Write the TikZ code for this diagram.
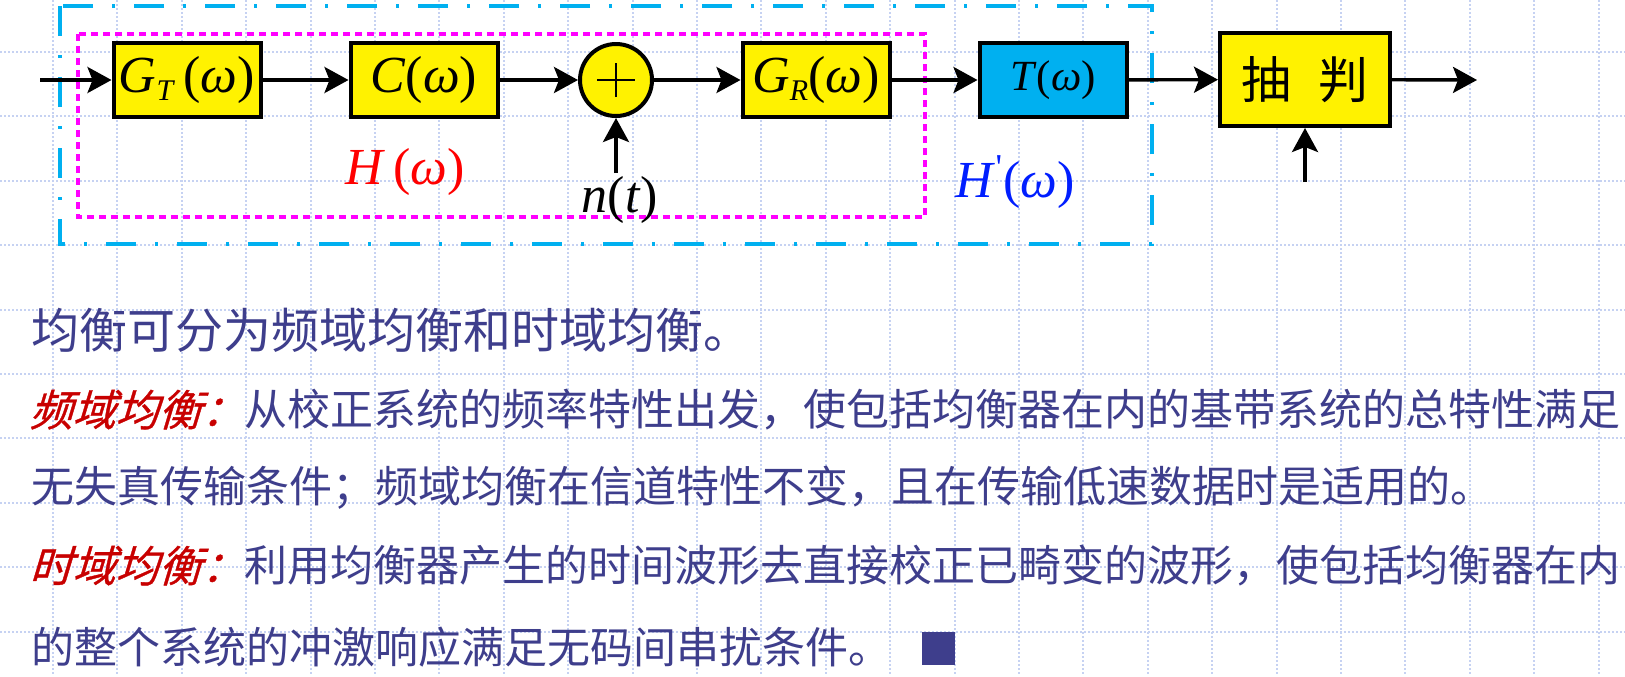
\documentclass[tikz,border=0pt]{standalone}
\usepackage{fontspec}
\setmainfont{Noto Sans CJK SC}
\newfontfamily\tnr{Liberation Serif}
\newfontfamily\slnt[FakeSlant=0.3,FakeBold=0.8]{Noto Sans CJK SC}
\usetikzlibrary{arrows.meta}
\definecolor{grd}{RGB}{198,210,242}
\definecolor{txt}{RGB}{62,62,140}
\definecolor{skyb}{RGB}{0,176,240}
\definecolor{dred}{RGB}{200,0,0}
\definecolor{hblue}{RGB}{0,30,255}
\definecolor{pink}{RGB}{255,0,255}
\tikzset{blk/.style={draw,line width=2pt,fill=yellow,minimum width=73.5pt,minimum height=37pt,inner sep=0pt}}
\tikzset{sig/.style={-{Stealth[length=12pt,width=13pt,inset=2.5pt]},line width=1.7pt}}
\tikzset{t/.style={inner sep=0pt,anchor=west,text=txt,font=\fontsize{21.5}{24}\selectfont}}
\tikzset{lbl/.style={inner sep=0pt,font=\tnr\fontsize{26}{28}\selectfont}}
\tikzset{gridline/.style={grd,line width=1pt,densely dotted}}
\newcommand{\omg}{\textit{ω}}

\begin{document}
\begin{tikzpicture}[x=0.5pt,y=-0.5pt]
\useasboundingbox (0,0) rectangle (1625,676);
\fill[white] (0,0) rectangle (1625,676);
% grid
\foreach \i in {0,...,24} \draw[gridline] (53+64.4*\i,0) -- (53+64.4*\i,676);
\foreach \j in {0,...,9} \draw[gridline] (0,52+64.4*\j) -- (1625,52+64.4*\j);
% frames
\draw[skyb,line width=2pt,dash pattern=on 15pt off 9.5pt on 1.5pt off 9.5pt] (60,6) rectangle (1152,244);
\draw[pink,line width=2pt,dash pattern=on 3.5pt off 2.5pt] (78,34) rectangle (925,217);
% blocks
\node[blk] (GT) at (187,80) {\tnr\fontsize{26}{28}\selectfont\textit{G}\raisebox{-0.35ex}{\fontsize{15}{18}\selectfont\textit{T}}\,(\omg)};
\node[blk] (C) at (424,80) {\tnr\fontsize{26}{28}\selectfont\textit{C}(\omg)};
\node[draw,circle,fill=yellow,line width=2pt,minimum size=36pt,inner sep=0pt] (sum) at (616,80) {};
\draw[line width=1.3pt] ([xshift=-9.5pt]sum.center) -- ([xshift=9.5pt]sum.center);
\draw[line width=1.3pt] ([yshift=-8.5pt]sum.center) -- ([yshift=8.5pt]sum.center);
\node[blk] (GR) at (816,80) {\tnr\fontsize{26}{28}\selectfont\textit{G}\raisebox{-0.35ex}{\fontsize{15}{18}\selectfont\textit{R}}(\omg)};
\node[blk,fill=skyb] (T) at (1053,80) {\tnr\fontsize{21.5}{24}\selectfont\textit{T}(\omg)};
\node[blk,minimum width=85pt,minimum height=46.5pt] (judge) at (1305,79.5) {\fontsize{25}{28}\selectfont 抽\hspace{0.55em}判};
\coordinate (in) at (40,80);
\coordinate (out) at (1477,80);
\coordinate (noise) at (616,173);
\coordinate (clk) at (1305,182);
% connectors
\draw[sig] (in) -- (GT);
\draw[sig] (GT) -- (C);
\draw[sig] (C) -- (sum);
\draw[sig] (sum) -- (GR);
\draw[sig] (GR) -- (T);
\draw[sig] (T) -- (judge);
\draw[sig] (judge) -- (out);
\draw[sig] (noise) -- (sum);
\draw[sig] (clk) -- (judge);
% labels
\node[lbl,text=red] (H) at (405,172) {\textit{H}\,(\omg)};
\node[lbl] (n) at (620,200) {\textit{n}(\textit{t})};
\node[lbl,text=hblue] (Hp) at (1015,182) {\textit{H}\textsuperscript{\textquotesingle}(\omg)};
% text
\node[t,font=\fontsize{24}{26}\selectfont] (l1) at (31,330) {均衡可分为频域均衡和时域均衡。};
\node[t] (l2) at (29,410) {{\slnt\color{dred}频域均衡：}从校正系统的频率特性出发，使包括均衡器在内的基带系统的总特性满足};
\node[t] (l3) at (31,488) {无失真传输条件；频域均衡在信道特性不变，且在传输低速数据时是适用的。};
\node[t] (l4) at (29,566) {{\slnt\color{dred}时域均衡：}利用均衡器产生的时间波形去直接校正已畸变的波形，使包括均衡器在内};
\node[t] (l5) at (31,647) {的整个系统的冲激响应满足无码间串扰条件。};
\node[fill=txt,minimum size=16.5pt,inner sep=0pt] (qed) at (938,648) {};
\end{tikzpicture}
\end{document}
